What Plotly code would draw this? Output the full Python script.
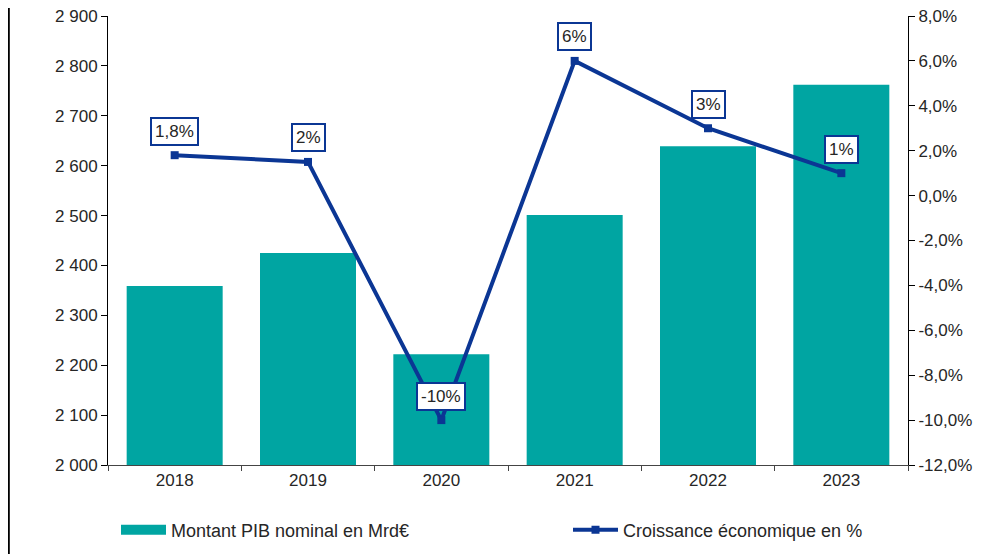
import plotly.graph_objects as go

# data
years = ['2018', '2019', '2020', '2021', '2022', '2023']
pib_mrd = [2359, 2425, 2222, 2501, 2639, 2762]
croissance = [1.8, 1.5, -10.0, 6.0, 3.0, 1.0]
croissance_labels = ['1,8%', '2%', '-10%', '6%', '3%', '1%']

left_ticks = [2000, 2100, 2200, 2300, 2400, 2500, 2600, 2700, 2800, 2900]
right_ticks = [-12, -10, -8, -6, -4, -2, 0, 2, 4, 6, 8]

TEAL = '#00A5A2'
NAVY = '#0B3694'
FONT = 'Liberation Sans, Arial, sans-serif'
TXT = '#262626'

fig = go.Figure()

fig.add_trace(go.Bar(
    x=years, y=pib_mrd,
    name='Montant PIB nominal en Mrd€',
    marker=dict(color=TEAL, line=dict(width=0)),
    showlegend=False,
))

# legend-only proxy so the bar swatch is a wide block like the original
fig.add_trace(go.Scatter(
    x=[None], y=[None], mode='lines',
    name='Montant PIB nominal en Mrd€',
    line=dict(color=TEAL, width=14),
    legend='legend',
))

fig.add_trace(go.Scatter(
    x=years, y=croissance,
    name='Croissance économique en %',
    yaxis='y2',
    mode='lines+markers',
    line=dict(color=NAVY, width=4),
    marker=dict(symbol='square', size=8, color=NAVY),
    legend='legend2',
))

# boxed value labels above each point (x given as category index)
for i, (v, lab) in enumerate(zip(croissance, croissance_labels)):
    fig.add_annotation(
        x=i, y=v, xref='x', yref='y2', text=lab, showarrow=False,
        yshift=24, font=dict(size=17, color=TXT, family=FONT),
        bgcolor='white', bordercolor=NAVY, borderwidth=2, borderpad=3,
    )

# left frame line of the original picture
fig.add_shape(type='line', xref='paper', yref='paper',
              x0=-0.124, x1=-0.124, y0=-0.3, y1=1.1,
              line=dict(color='black', width=2))

legend_common = dict(
    orientation='h', yanchor='middle', y=-0.145,
    font=dict(size=18, color=TXT), itemwidth=45, bgcolor='rgba(0,0,0,0)',
)

fig.update_layout(
    width=996, height=554,
    margin=dict(l=100, r=96, t=8, b=97, autoexpand=False),
    paper_bgcolor='white', plot_bgcolor='white',
    font=dict(family=FONT, size=17, color=TXT),
    bargap=0.28,
    showlegend=True,
    legend=dict(x=0.01, xanchor='left', **legend_common),
    legend2=dict(x=0.575, xanchor='left', **legend_common),
    xaxis=dict(
        type='category', range=[-0.5, 5.5],
        showline=True, linecolor='#444444', linewidth=1,
        ticks='outside', tickson='boundaries', ticklen=5, tickcolor='#444444',
        tickangle=0, showgrid=False,
    ),
    yaxis=dict(
        range=[2000, 2900], tickvals=left_ticks,
        ticktext=[f'{v:,}'.replace(',', ' ') for v in left_ticks],
        showline=True, linecolor='black', linewidth=1,
        ticks='outside', ticklen=6, tickcolor='black',
        showgrid=False, zeroline=False, ticklabeloverflow='allow',
    ),
    yaxis2=dict(
        overlaying='y', side='right', range=[-12, 8],
        tickvals=right_ticks,
        ticktext=[f'{v:.1f}%'.replace('.', ',') for v in right_ticks],
        showline=True, linecolor='black', linewidth=1,
        ticks='outside', ticklen=6, tickcolor='black',
        showgrid=False, zeroline=False, ticklabeloverflow='allow',
    ),
)

fig.write_html('out.html')
